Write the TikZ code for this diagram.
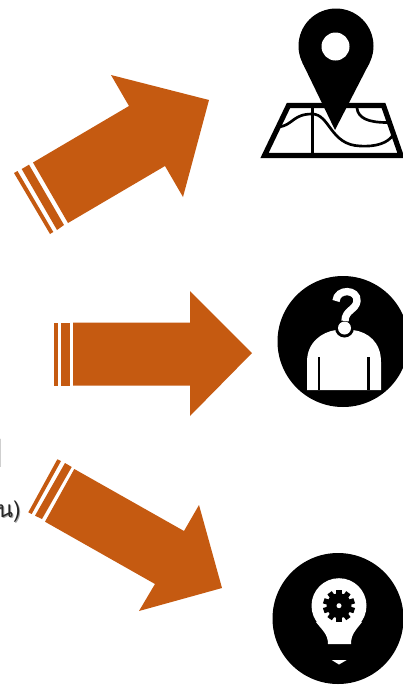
\documentclass[tikz,border=0pt]{standalone}
\usepackage{fontspec}
\newfontfamily\thaifont[Script=Thai]{Loma}
\definecolor{arroworange}{HTML}{C55A11}
\tikzset{
  orangeshape/.style={fill=arroworange,draw=none},
  inkshape/.style={fill=black,draw=none},
  paper/.style={fill=white,draw=none},
  mapline/.style={draw=black,line width=2pt,line cap=round},
  textshadow/.style={text=black!35,inner sep=0pt},
  textface/.style={text=black!85,inner sep=0pt}
}
\begin{document}
\begin{tikzpicture}[x=0.75pt,y=-0.75pt]
\useasboundingbox (0,0) rectangle (403,686);
\fill[white] (0,0) rectangle (403,686);
\clip (0,0) rectangle (403,686);
% cropped text fragments
\node[textshadow,anchor=base east,font=\thaifont\bfseries\fontsize{38}{38}\selectfont] (topshadow) at (6,467) {ม};
\node[textface,anchor=base east,font=\thaifont\bfseries\fontsize{38}{38}\selectfont] (toptext) at (4.5,466) {ม};
\node[textshadow,anchor=base east,font=\thaifont\fontsize{17}{18}\selectfont] (lowshadow) at (22,518) {น)};
\node[textface,anchor=base east,font=\thaifont\fontsize{17}{18}\selectfont] (lowtext) at (21,517) {น)};
% arrow 1
\fill[orangeshape] (14,173) -- (17.5,171) -- (53.3,232) -- (50,234) -- cycle;
\fill[orangeshape] (21.7,169) -- (29,164.7) -- (64,225) -- (57,230) -- cycle;
\fill[orangeshape] (33,162.5) -- (129,106) -- (111,75) -- (209,100) -- (183,197) -- (165,166) -- (68,223) -- cycle;
% arrow 2
\fill[orangeshape] (53.5,322.5) rectangle (57.7,385.5);
\fill[orangeshape] (61.3,322.5) rectangle (69.5,385.5);
\fill[orangeshape] (73,322.5) -- (190,322.5) -- (190,291) -- (252,353) -- (190,416) -- (190,385.5) -- (73,385.5) -- cycle;
% arrow 3
\fill[orangeshape] (57.3,459.3) -- (61,461) -- (31.7,514) -- (28.3,512.3) -- cycle;
\fill[orangeshape] (65,463) -- (71.7,467) -- (42,519) -- (35,515.7) -- cycle;
\fill[orangeshape] (74.3,469) -- (184,531) -- (199,505) -- (222,588) -- (139,611) -- (155,584) -- (45,521.7) -- cycle;
% map icon
\draw[black,line width=3.9pt,line join=miter] (288.5,105.5) -- (383.5,105.5) -- (401,155.5) -- (264.5,155.5) -- cycle;
\draw[mapline] (312.7,105) -- (312.7,155);
\draw[mapline] (279,127) .. controls (293,125) and (293,114) .. (312,114) .. controls (330,114) and (330,145) .. (360,146) .. controls (376,147) and (388,143) .. (393,135);
\draw[mapline] (357,108) .. controls (358,118) and (368,122.5) .. (387,122.5);
\fill[inkshape] (336,46) circle (37.5);
\fill[inkshape] (302.6,63.1) -- (369.4,63.1) -- (335,130) -- cycle;
\fill[paper] (335.5,46.5) circle (14);
% person icon
\fill[inkshape] (343,341.5) circle (65.5);
\fill[paper] (307,390) -- (307,362) .. controls (307,342) and (322,332) .. (336,330) -- (353,330) .. controls (368,332) and (381,342) .. (381,362) -- (381,390) -- cycle;
\fill[inkshape] (344.5,328) circle (9.5);
\fill[paper] (344.5,328) circle (6.5);
\draw[white,line width=5.5pt] (336,301) .. controls (337,288) and (358,289) .. (357,301) .. controls (356,310) and (345,310) .. (345,321);
\draw[black,line width=2pt] (319,357) -- (319,390);
\draw[black,line width=2pt] (368.7,357) -- (368.7,390);
% bulb icon
\fill[inkshape] (338,618.5) circle (65.5);
\fill[paper] (339,605.7) circle (27.5);
\fill[paper] (316,622) .. controls (322,630) and (328,634) .. (328,644) -- (351,644) .. controls (351,634) and (356,630) .. (362,622) -- cycle;
\fill[paper] (331.7,660) -- (346.7,660) -- (339,664.5) -- cycle;
\fill[inkshape] (339,605.7) circle (12.5);
\foreach \a in {0,36,...,324}
  \fill[inkshape,rotate around={\a:(339,605.7)}] (336.3,589.7) rectangle (341.7,596);
\fill[paper] (339,605.7) circle (2.5);
\end{tikzpicture}
\end{document}
